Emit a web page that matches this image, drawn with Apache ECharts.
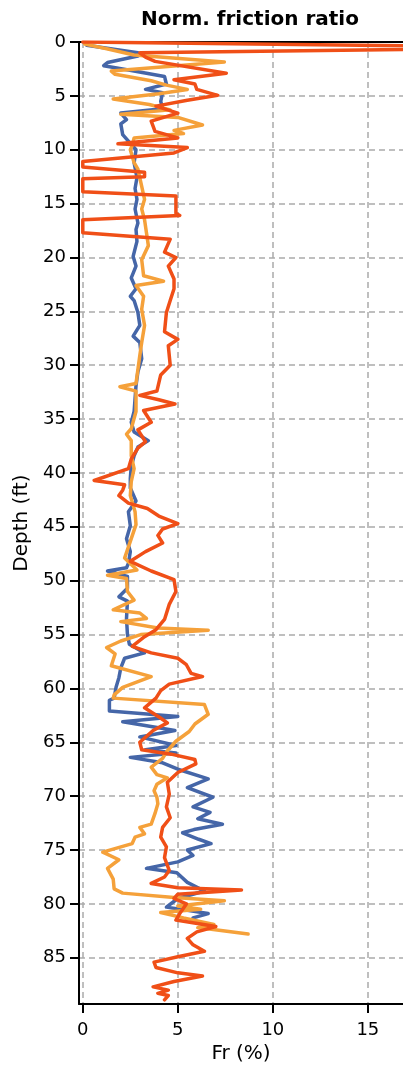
<!DOCTYPE html>
<html><head><meta charset="utf-8">
<script src="https://cdn.jsdelivr.net/npm/echarts@6/dist/echarts.min.js"></script>
<style>html,body{margin:0;padding:0;background:#fff}#c{width:403px;height:1069px}</style>
</head><body><div id="c"></div>
<script>
const depthTicks = [0,5,10,15,20,25,30,35,40,45,50,55,60,65,70,75,80,85];
const frTicks = [0,5,10,15];
// [depth (ft), Fr (%)]
const blueProfile = [[0.3,0.2],[1.0,2.9],[1.3,2.9],[1.9,1.3],[2.2,1.1],[2.6,2.4],[3.2,4.3],[3.9,4.4],[4.4,3.3],[4.7,4.2],[5.5,4.1],[6.2,4.2],[6.6,2.0],[7.2,2.3],[7.6,2.0],[8.6,2.1],[9.2,2.4],[10.0,2.8],[11.2,2.7],[12.6,2.85],[13.6,2.75],[14.6,2.85],[15.5,2.75],[16.8,2.9],[17.4,2.8],[18.5,2.85],[19.9,2.65],[20.8,2.8],[21.9,2.55],[22.9,2.8],[23.6,2.5],[24.0,2.7],[25.1,2.9],[26.3,3.0],[27.3,2.65],[27.9,3.0],[29.4,3.1],[30.6,2.9],[31.9,2.8],[33.1,2.75],[34.3,2.7],[35.3,2.55],[36.2,2.7],[37.0,3.45],[37.6,2.9],[38.4,2.7],[39.4,2.55],[40.5,2.5],[41.4,2.5],[42.6,2.8],[43.6,2.4],[44.9,2.5],[46.1,2.3],[47.3,2.5],[48.4,2.4],[48.8,2.3],[49.1,1.3],[49.6,2.35],[50.7,2.35],[51.5,1.9],[51.9,2.35],[53.5,2.3],[55.0,2.35],[55.9,2.45],[56.7,3.25],[57.2,2.2],[58.1,2.0],[59.0,1.9],[59.9,1.75],[60.9,1.65],[61.1,1.4],[62.1,1.4],[62.6,5.0],[63.1,2.1],[63.9,4.85],[64.5,3.0],[65.3,4.9],[65.7,3.3],[66.0,4.9],[66.4,2.5],[66.9,4.2],[67.5,5.0],[68.4,6.6],[69.2,5.5],[70.1,6.85],[71.0,5.8],[71.5,6.7],[72.1,6.05],[72.6,7.35],[73.1,5.85],[73.4,5.25],[74.0,6.1],[74.4,6.75],[75.0,5.5],[75.5,5.8],[76.1,5.0],[76.7,3.35],[77.1,4.95],[78.0,5.5],[78.8,6.4],[79.5,5.0],[80.3,4.4],[80.9,6.6],[81.3,5.8]];
const orangeProfile = [[0.2,0.1],[0.6,1.2],[1.2,2.7],[1.85,7.45],[2.7,1.5],[3.0,1.7],[3.6,3.6],[4.0,4.4],[4.4,5.5],[4.8,4.0],[5.3,1.6],[5.8,3.5],[6.3,4.6],[6.7,2.0],[7.0,5.0],[7.7,6.3],[8.2,4.8],[8.5,5.3],[8.9,2.7],[9.6,2.6],[10.0,2.5],[11.2,2.7],[11.8,2.9],[13.4,3.1],[14.6,3.25],[15.5,3.1],[16.5,3.25],[17.7,3.35],[18.9,3.45],[20.2,3.1],[21.7,3.2],[22.2,4.25],[22.6,2.8],[23.6,3.2],[24.8,3.1],[26.3,3.25],[27.9,3.1],[29.1,3.0],[30.4,2.9],[31.7,2.8],[32.0,1.95],[32.4,2.8],[34.3,2.8],[35.9,2.55],[36.4,2.3],[37.0,2.55],[38.4,2.55],[39.6,2.7],[40.8,2.55],[42.1,2.5],[43.6,2.75],[44.8,2.8],[46.1,2.55],[47.9,2.2],[49.0,2.85],[49.5,1.3],[49.8,2.3],[51.0,2.35],[51.8,2.7],[52.7,1.6],[53.0,3.0],[53.5,3.35],[53.8,2.0],[54.4,3.95],[54.6,6.6],[55.0,3.05],[55.6,2.0],[56.2,1.25],[56.8,1.7],[57.9,1.5],[58.9,3.6],[59.9,2.1],[60.6,1.65],[60.9,1.6],[61.5,6.4],[62.4,6.6],[63.3,5.9],[64.0,5.6],[64.9,4.9],[65.9,4.4],[66.5,4.2],[67.3,3.6],[68.0,3.9],[68.3,4.45],[68.9,3.9],[69.5,3.75],[70.1,3.9],[70.7,3.95],[71.6,3.8],[72.6,3.6],[72.9,3.0],[73.5,3.25],[73.8,2.75],[74.4,2.6],[75.2,1.05],[75.9,1.9],[76.7,1.3],[77.7,1.6],[78.6,1.65],[79.0,2.1],[79.4,4.8],[79.7,7.45],[80.2,5.0],[80.5,6.2],[80.8,4.1],[81.3,5.3],[81.9,6.9],[82.2,6.05],[82.8,8.7]];
const redProfile = [[0.0,0.0],[0.5,25],[1.0,3.0],[1.4,3.3],[1.8,3.8],[2.9,7.55],[3.5,4.8],[3.9,5.9],[4.4,6.0],[4.95,7.1],[5.4,5.5],[5.95,3.85],[6.6,5.0],[7.35,3.6],[8.3,3.8],[8.9,5.0],[9.45,1.85],[9.8,5.5],[10.3,4.8],[11.1,0],[11.6,0],[12.1,3.25],[12.5,3.25],[12.7,0],[13.9,0],[14.3,4.9],[15.9,4.9],[16.1,5.1],[16.5,0],[17.7,0],[18.3,4.6],[19.5,4.3],[20.0,4.9],[20.8,4.5],[22.0,4.8],[22.9,4.8],[24.0,4.6],[25.1,4.4],[26.9,4.3],[27.6,5.0],[28.2,4.5],[30.0,4.6],[30.9,4.1],[32.4,3.9],[32.8,3.0],[33.2,4.0],[33.6,4.85],[34.2,3.2],[35.3,3.6],[36.0,2.9],[37.1,3.3],[37.7,2.9],[38.7,2.55],[39.6,2.4],[40.7,0.6],[41.1,2.2],[41.6,2.1],[42.1,1.9],[42.8,2.4],[43.3,3.4],[44.0,4.0],[44.7,5.0],[45.2,4.2],[45.8,3.95],[46.5,4.2],[47.3,3.3],[48.2,2.5],[49.1,3.6],[49.9,4.8],[51.0,4.9],[52.2,4.55],[53.6,4.3],[54.55,3.85],[55.2,3.25],[56.1,2.6],[56.7,3.6],[57.2,5.0],[57.8,5.45],[58.6,5.7],[58.9,6.3],[59.6,4.55],[60.2,4.1],[60.9,3.85],[61.8,3.25],[62.7,4.05],[63.2,4.45],[63.9,3.7],[65.0,3.0],[65.7,3.1],[66.1,4.65],[66.6,5.9],[67.0,5.95],[67.8,5.0],[68.7,4.45],[69.8,4.55],[71.0,4.4],[72.0,4.6],[72.9,4.2],[73.8,4.1],[74.7,4.4],[75.7,4.3],[76.9,4.55],[77.5,4.3],[78.1,3.6],[78.5,5.0],[78.7,8.35],[79.1,5.0],[79.5,4.8],[80.0,5.45],[80.9,5.1],[81.5,4.9],[82.1,7.0],[82.6,6.0],[83.2,5.5],[83.8,5.8],[84.4,6.4],[84.9,5.0],[85.4,3.75],[85.9,3.85],[86.4,5.0],[86.7,6.3],[87.2,4.8],[87.7,3.7],[88.0,4.5],[88.3,3.95],[88.5,4.5],[88.9,4.3]];

const FONT = 'DejaVu Sans';
const toXY = arr => arr.map(p => [p[1], p[0]]);
const chart = echarts.init(document.getElementById('c'), null, {renderer: 'canvas'});
const dashed = {show: true, lineStyle: {color: '#aaaaaa', type: [6, 4], width: 1.5}};
const mkSeries = (name, data, color, w) => ({
  name, type: 'line', data: toXY(data), showSymbol: false, symbol: 'none',
  clip: true, lineStyle: {color, width: w, join: 'round', cap: 'round'}, z: 3
});
chart.setOption({
  animation: false,
  backgroundColor: '#ffffff',
  title: {text: 'Norm. friction ratio', left: 245, textAlign: 'center', top: 5,
    textStyle: {fontFamily: FONT, fontSize: 20, fontWeight: 'bold', color: '#000'}},
  grid: {left: 79, right: 0, top: 42, bottom: 62, containLabel: false},
  xAxis: [{
    type: 'value', position: 'bottom', min: -0.2, max: 16.85,
    name: 'Fr (%)', nameLocation: 'middle', nameGap: 36,
    nameTextStyle: {fontFamily: FONT, fontSize: 20, color: '#000'},
    axisLine: {show: true, onZero: false, lineStyle: {color: '#000', width: 2}},
    axisTick: {show: true, length: 9, customValues: frTicks, lineStyle: {color: '#000', width: 2}},
    axisLabel: {customValues: frTicks, margin: 17, fontFamily: FONT, fontSize: 18, color: '#000'},
    splitLine: dashed
  }, {
    type: 'value', position: 'top', min: -0.2, max: 16.85,
    axisLine: {show: true, onZero: false, lineStyle: {color: '#000', width: 2}},
    axisTick: {show: false}, axisLabel: {show: false}, splitLine: {show: false}
  }],
  yAxis: {
    type: 'value', inverse: true, min: 0, max: 89.3,
    name: 'Depth (ft)', nameLocation: 'middle', nameGap: 45,
    nameTextStyle: {fontFamily: FONT, fontSize: 20, color: '#000'},
    axisLine: {show: true, onZero: false, lineStyle: {color: '#000', width: 2}},
    axisTick: {show: true, length: 9, customValues: depthTicks, lineStyle: {color: '#000', width: 2}},
    axisLabel: {customValues: depthTicks, margin: 13, fontFamily: FONT, fontSize: 18, color: '#000'},
    splitLine: dashed
  },
  series: [
    mkSeries('blue', blueProfile, '#4566a8', 3.5),
    mkSeries('orange', orangeProfile, '#f5a13a', 3.5),
    mkSeries('red', redProfile, '#f04f17', 3.5)
  ]
});
</script></body></html>
